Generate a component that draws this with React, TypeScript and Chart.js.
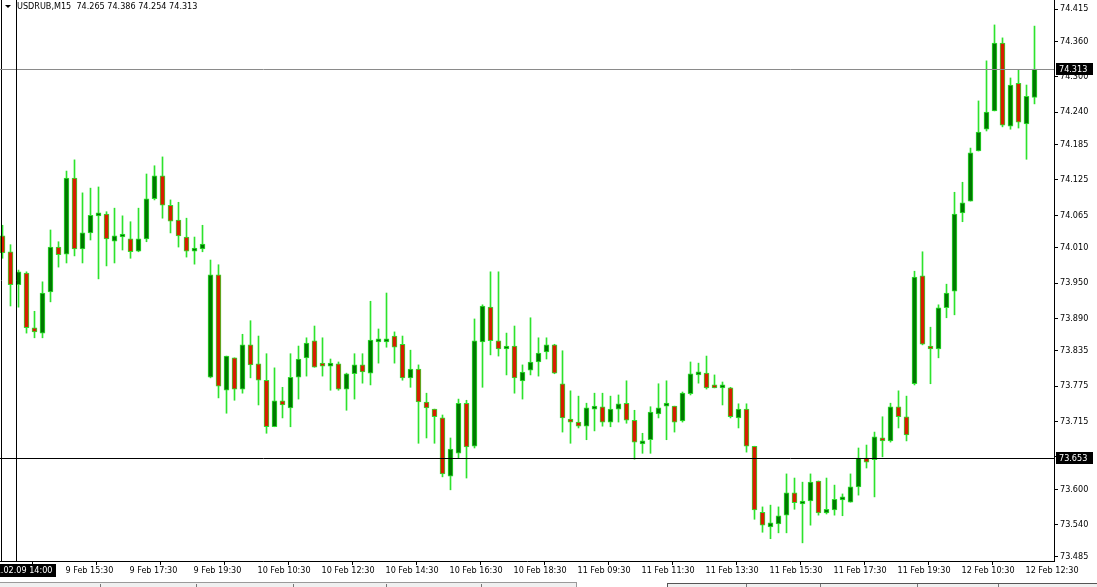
import React, { useEffect, useRef } from 'react';
import { Chart, registerables } from 'chart.js';

Chart.register(...registerables);

// ---- data (USDRUB, M15) ----
const headerText = 'USDRUB,M15  74.265 74.386 74.254 74.313';

const opens = [
  74.030, 74.003, 73.947, 73.967, 73.874, 73.865, 73.935, 74.011, 73.999, 74.128,
  74.008, 74.035, 74.064, 74.067, 74.021, 74.028, 74.025, 74.004, 74.025, 74.093,
  74.132, 74.082, 74.057, 74.028, 74.004, 74.008, 73.790, 73.964, 73.768, 73.823,
  73.770, 73.845, 73.813, 73.785, 73.706, 73.750, 73.738, 73.790, 73.823, 73.852,
  73.811, 73.809, 73.813, 73.770, 73.796, 73.811, 73.797, 73.850, 73.850, 73.860,
  73.846, 73.789, 73.804, 73.748, 73.736, 73.721, 73.622, 73.661, 73.746, 73.673,
  73.850, 73.909, 73.852, 73.838, 73.843, 73.784, 73.802, 73.816, 73.833, 73.845,
  73.779, 73.719, 73.714, 73.707, 73.736, 73.740, 73.714, 73.736, 73.746, 73.717,
  73.677, 73.684, 73.728, 73.741, 73.741, 73.716, 73.762, 73.794, 73.797, 73.773,
  73.772, 73.772, 73.721, 73.736, 73.673, 73.561, 73.536, 73.541, 73.556, 73.594,
  73.575, 73.580, 73.614, 73.560, 73.565, 73.582, 73.578, 73.604, 73.653, 73.650,
  73.687, 73.682, 73.740, 73.723, 73.779, 73.962, 73.843, 73.838, 73.908, 73.936,
  74.069, 74.089, 74.174, 74.211, 74.242, 74.357, 74.216, 74.289, 74.220, 74.265,
];
const highs = [
  74.048, 74.015, 73.972, 73.969, 73.902, 73.952, 74.040, 74.020, 74.140, 74.159,
  74.103, 74.111, 74.113, 74.071, 74.077, 74.064, 74.054, 74.077, 74.135, 74.149,
  74.164, 74.091, 74.087, 74.060, 74.028, 74.048, 73.989, 73.981, 73.826, 73.823,
  73.863, 73.886, 73.860, 73.830, 73.806, 73.773, 73.830, 73.843, 73.857, 73.877,
  73.857, 73.821, 73.816, 73.797, 73.830, 73.830, 73.919, 73.872, 73.933, 73.867,
  73.860, 73.836, 73.811, 73.763, 73.736, 73.726, 73.687, 73.753, 73.751, 73.889,
  73.913, 73.969, 73.969, 73.865, 73.877, 73.811, 73.891, 73.857, 73.857, 73.846,
  73.835, 73.767, 73.758, 73.746, 73.763, 73.763, 73.758, 73.760, 73.784, 73.734,
  73.695, 73.740, 73.779, 73.784, 73.741, 73.765, 73.816, 73.814, 73.826, 73.794,
  73.782, 73.773, 73.745, 73.745, 73.673, 73.570, 73.573, 73.570, 73.626, 73.619,
  73.612, 73.626, 73.614, 73.619, 73.607, 73.592, 73.626, 73.670, 73.675, 73.697,
  73.723, 73.746, 73.767, 73.758, 73.970, 74.003, 73.875, 73.913, 73.948, 74.104,
  74.121, 74.179, 74.259, 74.327, 74.388, 74.366, 74.298, 74.311, 74.286, 74.386,
];
const lows = [
  73.992, 73.911, 73.909, 73.865, 73.857, 73.857, 73.918, 73.977, 73.984, 73.996,
  73.984, 74.023, 73.957, 73.979, 73.984, 74.006, 73.992, 74.003, 74.020, 74.091,
  74.060, 74.035, 74.011, 73.994, 73.982, 74.003, 73.789, 73.755, 73.729, 73.751,
  73.763, 73.789, 73.743, 73.695, 73.706, 73.721, 73.706, 73.753, 73.792, 73.807,
  73.792, 73.768, 73.768, 73.734, 73.753, 73.780, 73.777, 73.814, 73.841, 73.814,
  73.785, 73.773, 73.678, 73.687, 73.678, 73.621, 73.599, 73.653, 73.619, 73.670,
  73.773, 73.828, 73.826, 73.794, 73.763, 73.753, 73.794, 73.792, 73.821, 73.796,
  73.697, 73.678, 73.704, 73.684, 73.699, 73.707, 73.706, 73.714, 73.712, 73.651,
  73.661, 73.661, 73.721, 73.684, 73.697, 73.714, 73.760, 73.780, 73.770, 73.772,
  73.743, 73.721, 73.704, 73.663, 73.549, 73.527, 73.516, 73.526, 73.526, 73.566,
  73.509, 73.539, 73.556, 73.558, 73.556, 73.555, 73.578, 73.590, 73.636, 73.587,
  73.655, 73.680, 73.704, 73.682, 73.777, 73.845, 73.779, 73.823, 73.891, 73.896,
  74.054, 74.089, 74.174, 74.208, 74.242, 74.215, 74.211, 74.213, 74.160, 74.254,
];
const closes = [
  74.001, 73.947, 73.969, 73.874, 73.867, 73.933, 74.011, 73.998, 74.128, 74.008,
  74.035, 74.065, 74.069, 74.025, 74.030, 74.030, 74.003, 74.025, 74.093, 74.132,
  74.082, 74.055, 74.030, 74.004, 74.009, 74.016, 73.964, 73.775, 73.826, 73.770,
  73.845, 73.811, 73.785, 73.706, 73.750, 73.743, 73.790, 73.821, 73.848, 73.807,
  73.809, 73.813, 73.770, 73.796, 73.811, 73.799, 73.853, 73.855, 73.855, 73.841,
  73.789, 73.804, 73.748, 73.738, 73.723, 73.626, 73.668, 73.746, 73.672, 73.852,
  73.911, 73.852, 73.838, 73.841, 73.789, 73.799, 73.816, 73.831, 73.845, 73.797,
  73.721, 73.714, 73.707, 73.738, 73.740, 73.714, 73.736, 73.745, 73.717, 73.680,
  73.682, 73.731, 73.738, 73.745, 73.714, 73.763, 73.796, 73.797, 73.772, 73.772,
  73.773, 73.723, 73.736, 73.673, 73.565, 73.539, 73.543, 73.555, 73.594, 73.577,
  73.578, 73.612, 73.560, 73.566, 73.583, 73.585, 73.604, 73.653, 73.646, 73.689,
  73.682, 73.740, 73.723, 73.692, 73.960, 73.846, 73.838, 73.908, 73.933, 74.067,
  74.086, 74.171, 74.206, 74.240, 74.357, 74.218, 74.286, 74.223, 74.267, 74.313,
];

const timeTickBars = [8, 16, 24, 32, 40, 48, 56, 64, 72, 80, 88, 96, 104, 112, 120, 128];
const timeTickLabels = [
  '9 Feb 15:30', '9 Feb 17:30', '9 Feb 19:30', '10 Feb 10:30', '10 Feb 12:30', '10 Feb 14:30',
  '10 Feb 16:30', '10 Feb 18:30', '11 Feb 09:30', '11 Feb 11:30', '11 Feb 13:30', '11 Feb 15:30',
  '11 Feb 17:30', '11 Feb 19:30', '12 Feb 10:30', '12 Feb 12:30',
];
const priceTicks = [
  74.415, 74.360, 74.300, 74.240, 74.185, 74.125, 74.065, 74.010, 73.950,
  73.890, 73.835, 73.775, 73.715, 73.655, 73.600, 73.540, 73.485,
];

const bidPrice = 74.313;
const crosshairPrice = 73.653;
const crosshairBar = 2;
const crosshairTime = '2021.02.09 14:00';

// ---- styling ----
const OUTLINE = '#2de32d';
const BULL = '#007800';
const BEAR = '#d81c00';
const FONT = '"DejaVu Sans Condensed", "DejaVu Sans"';
const FONT_SIZE = 9;

const X_MIN = -0.3125;
const X_MAX = 131.4375;
const Y_MIN = 73.4782;
const Y_MAX = 74.4303;
const TICK_SHIFT = 0.25;

const overlay = {
  id: 'mt4overlay',
  afterDatasetsDraw(chart: any) {
    const { ctx, chartArea: a, scales } = chart;
    const xs = scales.x;
    const ys = scales.y;
    ctx.save();
    ctx.lineWidth = 1;
    const line = (x1: number, y1: number, x2: number, y2: number, c: string) => {
      ctx.strokeStyle = c;
      ctx.beginPath();
      ctx.moveTo(x1, y1);
      ctx.lineTo(x2, y2);
      ctx.stroke();
    };
    // left frame line
    line(1.5, a.top, 1.5, a.bottom, '#000');
    // bid line
    const yb = Math.floor(ys.getPixelForValue(bidPrice)) + 0.5;
    line(a.left, yb, a.right, yb, '#8a8a8a');
    // crosshair
    const yc = Math.floor(ys.getPixelForValue(crosshairPrice)) + 0.5;
    const xc = Math.floor(xs.getPixelForValue(crosshairBar - TICK_SHIFT)) + 0.5;
    line(a.left, yc, a.right, yc, '#000');
    line(xc, a.top, xc, a.bottom, '#000');
    ctx.restore();
  },
  afterDraw(chart: any) {
    const { ctx, chartArea: a, scales } = chart;
    const ys = scales.y;
    ctx.save();
    ctx.font = `${FONT_SIZE}px ${FONT}`;
    ctx.textBaseline = 'middle';
    // price boxes
    const box = (price: number, txt: string) => {
      const yl = Math.floor(ys.getPixelForValue(price));
      ctx.fillStyle = '#000';
      ctx.fillRect(a.right + 2, yl - 6, 37, 12);
      ctx.fillStyle = '#fff';
      ctx.textAlign = 'left';
      ctx.fillText(txt, a.right + 5, yl + 0.5);
    };
    box(bidPrice, bidPrice.toFixed(3));
    box(crosshairPrice, crosshairPrice.toFixed(3));
    // time box
    ctx.fillStyle = '#000';
    ctx.fillRect(0, a.bottom + 3, 56, 13);
    ctx.fillStyle = '#fff';
    ctx.textAlign = 'right';
    ctx.fillText(crosshairTime, 52.5, a.bottom + 9.5);
    // header
    ctx.fillStyle = '#000';
    ctx.beginPath();
    ctx.moveTo(5, 5);
    ctx.lineTo(11, 5);
    ctx.lineTo(8, 8);
    ctx.closePath();
    ctx.fill();
    ctx.textAlign = 'left';
    ctx.fillText(headerText, 17, 7);
    // bottom tab strip
    ctx.lineWidth = 1;
    const line = (x1: number, y1: number, x2: number, y2: number, c: string) => {
      ctx.strokeStyle = c;
      ctx.beginPath();
      ctx.moveTo(x1, y1);
      ctx.lineTo(x2, y2);
      ctx.stroke();
    };
    ctx.fillStyle = '#f0f0f0';
    ctx.fillRect(0, 583, 576, 4);
    ctx.fillRect(668, 584, 429, 3);
    line(0, 582.5, 576, 582.5, '#9a9a9a');
    line(576.5, 582, 576.5, 587, '#9a9a9a');
    line(667.5, 583, 667.5, 587, '#555');
    line(667, 583.5, 1097, 583.5, '#555');
    [100, 196, 293, 386, 481, 746, 820, 917, 998].forEach((x) => line(x + 0.5, 584, x + 0.5, 587, '#777'));
    ctx.restore();
  },
};

export default function App() {
  const ref = useRef<HTMLCanvasElement>(null);
  useEffect(() => {
    const canvas = ref.current;
    if (!canvas) return;
    const idx = opens.map((_, i) => i);
    const bodyData = idx.map((i) => ({ x: i, y: [opens[i], closes[i]] }));
    const wickData = idx.map((i) => ({ x: i, y: [lows[i], highs[i]] }));
    const fills = idx.map((i) => (closes[i] >= opens[i] ? BULL : BEAR));
    const font = { family: FONT, size: FONT_SIZE };
    const chart = new Chart(canvas, {
      type: 'bar',
      data: {
        datasets: [
          {
            label: 'body',
            data: bodyData as any,
            backgroundColor: fills,
            borderColor: OUTLINE,
            borderWidth: 1,
            borderSkipped: false,
            barThickness: 5,
            minBarLength: 3,
            grouped: false,
            order: 0,
          } as any,
          {
            label: 'wick',
            data: wickData as any,
            backgroundColor: OUTLINE,
            borderWidth: 0,
            barThickness: 1,
            grouped: false,
            order: 1,
          } as any,
        ],
      },
      options: {
        responsive: false,
        animation: false,
        devicePixelRatio: 1,
        layout: { padding: 0 },
        plugins: {
          legend: { display: false },
          tooltip: { enabled: false },
        },
        scales: {
          x: {
            type: 'linear',
            position: 'bottom',
            min: X_MIN,
            max: X_MAX,
            offset: false,
            grid: { drawOnChartArea: false, drawTicks: true, tickLength: 4, color: '#000' },
            border: { display: true, color: '#000' },
            ticks: {
              autoSkip: false,
              maxRotation: 0,
              minRotation: 0,
              align: 'start',
              labelOffset: 1,
              padding: 0,
              color: '#000',
              font,
              callback: (_v: any, i: number) => timeTickLabels[i] ?? '',
            },
            afterBuildTicks: (s: any) => {
              s.ticks = timeTickBars.map((b) => ({ value: b - TICK_SHIFT }));
            },
            afterFit: (s: any) => {
              s.height = 26;
              s.paddingLeft = 0;
              s.paddingRight = 0;
            },
          } as any,
          y: {
            type: 'linear',
            position: 'right',
            min: Y_MIN,
            max: Y_MAX,
            grid: { drawOnChartArea: false, drawTicks: true, tickLength: 4, color: '#000' },
            border: { display: true, color: '#000' },
            ticks: {
              autoSkip: false,
              padding: 2,
              color: '#000',
              font,
              callback: (v: any) => Number(v).toFixed(3),
            },
            afterBuildTicks: (s: any) => {
              s.ticks = priceTicks.map((v) => ({ value: v }));
            },
            afterFit: (s: any) => {
              s.width = 43;
              s.paddingTop = 0;
              s.paddingBottom = 0;
            },
          } as any,
        },
      },
      plugins: [overlay],
    });
    return () => chart.destroy();
  }, []);

  return (
    <div style={{ position: 'fixed', left: 0, top: 0, width: 1097, height: 587, background: '#fff' }}>
      <canvas ref={ref} width={1097} height={587} style={{ display: 'block', width: 1097, height: 587 }} />
    </div>
  );
}
